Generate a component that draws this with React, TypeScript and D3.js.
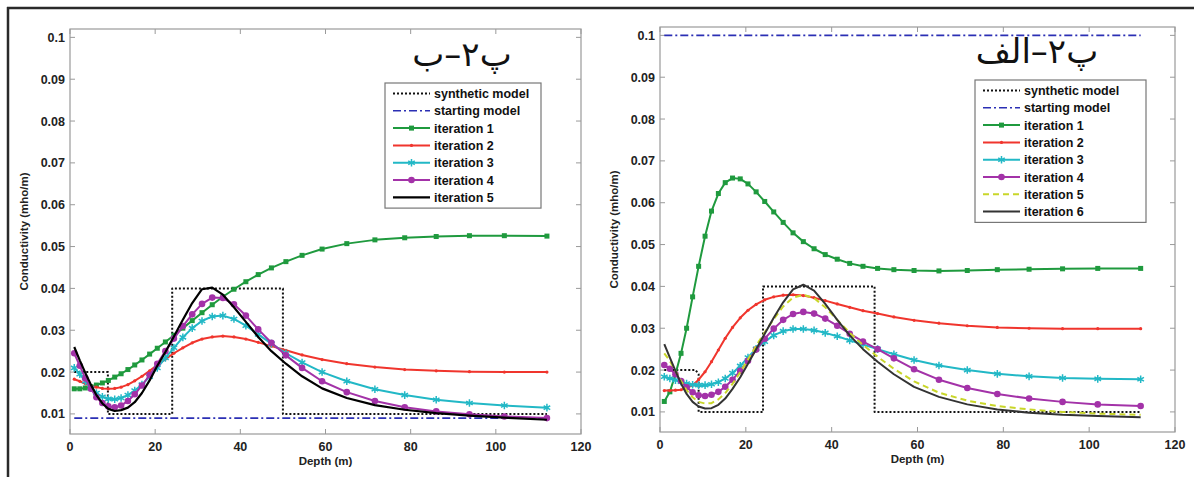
import * as d3 from "d3";
import { useEffect, useRef } from "react";

const W = 1194;
const H = 477;

// sampling depths (m) shared by all inversion curves
const depth = [1, 2.3, 3.6, 4.9, 6.2, 7.6, 9.0, 10.5, 12.0, 13.6, 15.2, 16.9, 18.7, 20.5, 22.4, 24.4, 26.5, 28.7, 31.0, 33.4, 35.9, 38.5, 41.3, 44.2, 47.3, 50.7, 54.5, 59.2, 65.0, 71.6, 78.6, 86.0, 93.8, 102.0, 112.0];

const xTicks = [0, 20, 40, 60, 80, 100, 120];
const yTicks = [0.01, 0.02, 0.03, 0.04, 0.05, 0.06, 0.07, 0.08, 0.09, 0.1];

// ---- left panel (پ۲–ب)
const synthDepthL = [1, 8.9, 8.9, 24, 24, 50, 50, 112];
const synthValueL = [0.02, 0.02, 0.01, 0.01, 0.04, 0.04, 0.01, 0.01];
const startDepthL = [1, 112];
const startValueL = [0.009, 0.009];
const it1L = [0.0160, 0.0160, 0.0162, 0.0165, 0.0169, 0.0174, 0.0180, 0.0188, 0.0196, 0.0206, 0.0217, 0.0229, 0.0243, 0.0257, 0.0272, 0.0288, 0.0305, 0.0323, 0.0342, 0.0361, 0.0380, 0.0398, 0.0416, 0.0433, 0.0449, 0.0464, 0.0479, 0.0494, 0.0507, 0.0516, 0.0521, 0.0524, 0.0526, 0.0526, 0.0525];
const it2L = [0.0183, 0.0178, 0.0172, 0.0167, 0.0164, 0.0161, 0.0160, 0.0161, 0.0164, 0.0170, 0.0179, 0.0190, 0.0203, 0.0217, 0.0231, 0.0245, 0.0258, 0.0270, 0.0279, 0.0284, 0.0286, 0.0284, 0.0279, 0.0271, 0.0262, 0.0252, 0.0241, 0.0230, 0.0220, 0.0212, 0.0206, 0.0203, 0.0201, 0.0200, 0.0200];
const it3L = [0.0210, 0.0195, 0.0178, 0.0162, 0.0150, 0.0141, 0.0136, 0.0135, 0.0138, 0.0145, 0.0156, 0.0170, 0.0189, 0.0210, 0.0234, 0.0258, 0.0283, 0.0305, 0.0322, 0.0333, 0.0335, 0.0327, 0.0311, 0.0290, 0.0268, 0.0245, 0.0223, 0.0200, 0.0178, 0.0159, 0.0145, 0.0134, 0.0126, 0.0120, 0.0115];
const it4L = [0.0245, 0.0215, 0.0185, 0.0160, 0.0140, 0.0126, 0.0118, 0.0116, 0.0120, 0.0131, 0.0147, 0.0168, 0.0193, 0.0220, 0.0250, 0.0280, 0.0310, 0.0338, 0.0363, 0.0378, 0.0377, 0.0362, 0.0335, 0.0302, 0.0270, 0.0240, 0.0210, 0.0178, 0.0152, 0.0131, 0.0116, 0.0106, 0.0099, 0.0094, 0.0090];
const it5L = [0.0260, 0.0228, 0.0198, 0.0170, 0.0145, 0.0125, 0.0112, 0.0107, 0.0109, 0.0115, 0.0128, 0.0150, 0.0180, 0.0215, 0.0248, 0.0285, 0.0325, 0.0365, 0.0398, 0.0402, 0.0385, 0.0355, 0.0320, 0.0284, 0.0250, 0.0220, 0.0190, 0.0161, 0.0138, 0.0121, 0.0110, 0.0102, 0.0096, 0.0091, 0.0086];

// ---- right panel (پ۲–الف)
const synthDepthR = [1, 8.3, 9, 9, 24, 24, 50, 50, 112];
const synthValueR = [0.02, 0.02, 0.019, 0.01, 0.01, 0.04, 0.04, 0.01, 0.01];
const startDepthR = [1, 112];
const startValueR = [0.1, 0.1];
const it1R = [0.0125, 0.0148, 0.0190, 0.0240, 0.0300, 0.0375, 0.0448, 0.0520, 0.0580, 0.0622, 0.0648, 0.0659, 0.0657, 0.0645, 0.0626, 0.0603, 0.0578, 0.0553, 0.0528, 0.0507, 0.0490, 0.0476, 0.0465, 0.0455, 0.0448, 0.0443, 0.0440, 0.0438, 0.0437, 0.0438, 0.0440, 0.0441, 0.0442, 0.0443, 0.0443];
const it2R = [0.0151, 0.0151, 0.0152, 0.0153, 0.0157, 0.0164, 0.0177, 0.0196, 0.0220, 0.0248, 0.0276, 0.0302, 0.0325, 0.0343, 0.0357, 0.0368, 0.0375, 0.0379, 0.0380, 0.0378, 0.0373, 0.0366, 0.0358, 0.0350, 0.0342, 0.0335, 0.0327, 0.0319, 0.0312, 0.0306, 0.0302, 0.0300, 0.0299, 0.0299, 0.0299];
const it3R = [0.0184, 0.0180, 0.0176, 0.0172, 0.0168, 0.0165, 0.0164, 0.0164, 0.0166, 0.0171, 0.0180, 0.0193, 0.0210, 0.0230, 0.0251, 0.0268, 0.0283, 0.0293, 0.0298, 0.0298, 0.0295, 0.0289, 0.0281, 0.0271, 0.0261, 0.0250, 0.0238, 0.0224, 0.0211, 0.0200, 0.0191, 0.0185, 0.0181, 0.0179, 0.0178];
const it4R = [0.0212, 0.0203, 0.0190, 0.0174, 0.0159, 0.0147, 0.0140, 0.0138, 0.0141, 0.0148, 0.0160, 0.0177, 0.0198, 0.0222, 0.0249, 0.0275, 0.0299, 0.0320, 0.0334, 0.0339, 0.0335, 0.0323, 0.0306, 0.0287, 0.0268, 0.0250, 0.0228, 0.0202, 0.0177, 0.0157, 0.0143, 0.0132, 0.0124, 0.0118, 0.0114];
const it5R = [0.0240, 0.0222, 0.0198, 0.0174, 0.0152, 0.0135, 0.0124, 0.0120, 0.0121, 0.0130, 0.0145, 0.0167, 0.0195, 0.0225, 0.0258, 0.0290, 0.0322, 0.0352, 0.0373, 0.0380, 0.0372, 0.0350, 0.0320, 0.0289, 0.0260, 0.0232, 0.0203, 0.0173, 0.0146, 0.0127, 0.0114, 0.0106, 0.0100, 0.0096, 0.0093];
const it6R = [0.0262, 0.0230, 0.0198, 0.0168, 0.0143, 0.0124, 0.0113, 0.0108, 0.0109, 0.0117, 0.0132, 0.0155, 0.0183, 0.0215, 0.0250, 0.0287, 0.0325, 0.0362, 0.0393, 0.0404, 0.0390, 0.0358, 0.0320, 0.0283, 0.0250, 0.0220, 0.0190, 0.0160, 0.0136, 0.0118, 0.0106, 0.0098, 0.0093, 0.0090, 0.0087];

const GREEN = "#1f9a3e";
const RED = "#f0352d";
const CYAN = "#22b8c6";
const PURPLE = "#a332a8";
const YELLOW = "#c9d62a";
const BLUE = "#2b2fb4";

type Series = {
  name: string;
  xs: number[];
  ys: number[];
  color: string;
  width: number;
  dash?: string;
  marker?: "square" | "dot" | "star" | "circle";
};

const leftSeries: Series[] = [
  { name: "synthetic model", xs: synthDepthL, ys: synthValueL, color: "#111", width: 2, dash: "2,2" },
  { name: "starting model", xs: startDepthL, ys: startValueL, color: BLUE, width: 1.6, dash: "8,3,2,3" },
  { name: "iteration 1", xs: depth, ys: it1L, color: GREEN, width: 2, marker: "square" },
  { name: "iteration 2", xs: depth, ys: it2L, color: RED, width: 2, marker: "dot" },
  { name: "iteration 3", xs: depth, ys: it3L, color: CYAN, width: 2, marker: "star" },
  { name: "iteration 4", xs: depth, ys: it4L, color: PURPLE, width: 2, marker: "circle" },
  { name: "iteration 5", xs: depth, ys: it5L, color: "#000", width: 2.2 },
];

const rightSeries: Series[] = [
  { name: "synthetic model", xs: synthDepthR, ys: synthValueR, color: "#111", width: 2, dash: "2,2" },
  { name: "starting model", xs: startDepthR, ys: startValueR, color: BLUE, width: 1.6, dash: "8,3,2,3" },
  { name: "iteration 1", xs: depth, ys: it1R, color: GREEN, width: 2, marker: "square" },
  { name: "iteration 2", xs: depth, ys: it2R, color: RED, width: 2, marker: "dot" },
  { name: "iteration 3", xs: depth, ys: it3R, color: CYAN, width: 2, marker: "star" },
  { name: "iteration 4", xs: depth, ys: it4R, color: PURPLE, width: 2, marker: "circle" },
  { name: "iteration 5", xs: depth, ys: it5R, color: YELLOW, width: 2, dash: "6,4" },
  { name: "iteration 6", xs: depth, ys: it6R, color: "#333", width: 2 },
];

const FONT = "'Liberation Sans', Arial, sans-serif";

function drawMarker(g: any, kind: string, x: number, y: number, color: string) {
  if (kind === "square") {
    g.append("rect").attr("x", x - 2.5).attr("y", y - 2.5).attr("width", 5).attr("height", 5).attr("fill", color);
  } else if (kind === "dot") {
    g.append("circle").attr("cx", x).attr("cy", y).attr("r", 1.6).attr("fill", color);
  } else if (kind === "circle") {
    g.append("circle").attr("cx", x).attr("cy", y).attr("r", 3.3).attr("fill", color);
  } else if (kind === "star") {
    g.append("path")
      .attr("transform", `translate(${x},${y})`)
      .attr("d", d3.symbol(d3.symbolAsterisk, 40)())
      .attr("fill", "none").attr("stroke", color).attr("stroke-width", 1.5);
  }
}

function drawPanel(svg: any, p: any) {
  const x = d3.scaleLinear().domain([0, 120]).range([p.left, p.right]);
  const y = d3.scaleLinear().domain([0.0052, 0.102]).range([p.bottom, p.top]);
  const g = svg.append("g");

  // box + inward ticks
  g.append("rect")
    .attr("x", p.left).attr("y", p.top)
    .attr("width", p.right - p.left).attr("height", p.bottom - p.top)
    .attr("fill", "#fff").attr("stroke", "#9a9a9a").attr("stroke-width", 1.2);

  xTicks.forEach(t => {
    g.append("line").attr("x1", x(t)).attr("x2", x(t)).attr("y1", p.bottom).attr("y2", p.bottom - 5).attr("stroke", "#9a9a9a");
    g.append("line").attr("x1", x(t)).attr("x2", x(t)).attr("y1", p.top).attr("y2", p.top + 5).attr("stroke", "#9a9a9a");
    g.append("text").attr("x", x(t)).attr("y", p.bottom + 17)
      .attr("text-anchor", "middle").attr("font-family", FONT).attr("font-weight", "bold")
      .attr("font-size", 12.5).attr("fill", "#222").text(t);
  });
  yTicks.forEach(t => {
    g.append("line").attr("x1", p.left).attr("x2", p.left + 5).attr("y1", y(t)).attr("y2", y(t)).attr("stroke", "#9a9a9a");
    g.append("line").attr("x1", p.right).attr("x2", p.right - 5).attr("y1", y(t)).attr("y2", y(t)).attr("stroke", "#9a9a9a");
    g.append("text").attr("x", p.left - 5).attr("y", y(t) + 4.5)
      .attr("text-anchor", "end").attr("font-family", FONT).attr("font-weight", "bold")
      .attr("font-size", 12.5).attr("fill", "#222").text(d3.format("~g")(t));
  });

  g.append("text")
    .attr("transform", `translate(${p.left - 42},${(p.top + p.bottom) / 2}) rotate(-90)`)
    .attr("text-anchor", "middle").attr("font-family", FONT).attr("font-weight", "bold")
    .attr("font-size", 11.5).attr("fill", "#222").text("Conductivity (mho/m)");
  g.append("text")
    .attr("x", (p.left + p.right) / 2).attr("y", p.bottom + 31)
    .attr("text-anchor", "middle").attr("font-family", FONT).attr("font-weight", "bold")
    .attr("font-size", 11.5).attr("fill", "#222").text("Depth (m)");

  // curves
  p.series.forEach((s: Series) => {
    const pts: [number, number][] = s.xs.map((d, i) => [x(d), y(s.ys[i])]);
    g.append("path")
      .attr("d", d3.line()(pts))
      .attr("fill", "none").attr("stroke", s.color).attr("stroke-width", s.width)
      .attr("stroke-dasharray", s.dash || null).attr("stroke-linejoin", "round");
    if (s.marker) pts.forEach(([px, py]) => drawMarker(g, s.marker!, px, py, s.color));
  });

  // title
  g.append("text")
    .attr("x", p.titleX).attr("y", p.titleY)
    .attr("text-anchor", "middle").attr("direction", "rtl")
    .attr("font-family", "'DejaVu Sans', 'Noto Sans', sans-serif")
    .attr("font-size", 34).attr("fill", "#111").text(p.title);

  // legend
  const lg = g.append("g");
  lg.append("rect")
    .attr("x", p.legX).attr("y", p.legY).attr("width", p.legW)
    .attr("height", p.series.length * 17.3 + 4)
    .attr("fill", "#fff").attr("stroke", "#777").attr("stroke-width", 1.2);
  p.series.forEach((s: Series, i: number) => {
    const cy = p.legY + 10.5 + i * 17.3;
    lg.append("line")
      .attr("x1", p.legX + 8).attr("x2", p.legX + 45).attr("y1", cy).attr("y2", cy)
      .attr("stroke", s.color).attr("stroke-width", s.width).attr("stroke-dasharray", s.dash || null);
    if (s.marker) drawMarker(lg, s.marker, p.legX + 26.5, cy, s.color);
    lg.append("text")
      .attr("x", p.legX + 49).attr("y", cy + 4.5)
      .attr("font-family", FONT).attr("font-weight", "bold").attr("font-size", 12.5)
      .attr("fill", "#111").text(s.name);
  });
}

export default function App() {
  const ref = useRef<SVGSVGElement>(null);

  useEffect(() => {
    const svg = d3.select(ref.current);
    svg.selectAll("*").remove();
    svg.append("rect").attr("width", W).attr("height", H).attr("fill", "#fff");

    drawPanel(svg, {
      left: 70, right: 581, top: 29, bottom: 434, series: leftSeries,
      title: "پ۲–ب", titleX: 462, titleY: 66,
      legX: 385, legY: 83, legW: 156,
    });
    drawPanel(svg, {
      left: 660, right: 1175, top: 27, bottom: 432, series: rightSeries,
      title: "پ۲–الف", titleX: 1037, titleY: 63,
      legX: 975, legY: 80, legW: 171,
    });

    // outer frame (top and left edges)
    svg.append("line").attr("x1", 7).attr("x2", W).attr("y1", 8).attr("y2", 8).attr("stroke", "#2a2a2a").attr("stroke-width", 2.5);
    svg.append("line").attr("x1", 8).attr("x2", 8).attr("y1", 7).attr("y2", H).attr("stroke", "#2a2a2a").attr("stroke-width", 2.5);
  }, []);

  return (
    <div style={{ position: "absolute", left: 0, top: 0 }}>
      <svg ref={ref} width={W} height={H} style={{ display: "block" }} />
    </div>
  );
}
